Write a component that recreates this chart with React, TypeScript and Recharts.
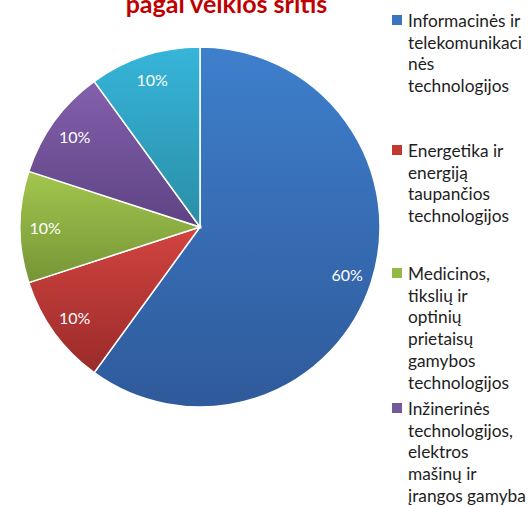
import React from "react";
import { PieChart, Pie, Cell, Legend } from "recharts";

const categories = [
  "Informacinės ir telekomunikacinės technologijos",
  "Energetika ir energiją taupančios technologijos",
  "Medicinos, tikslių ir optinių prietaisų gamybos technologijos",
  "Inžinerinės technologijos, elektros mašinų ir įrangos gamyba",
  "Kitos",
];
const shares = [60, 10, 10, 10, 10];
// legend lines as wrapped in the original
const legendLines = [
  ["Informacinės ir", "telekomunikaci", "nės", "technologijos"],
  ["Energetika ir", "energiją", "taupančios", "technologijos"],
  ["Medicinos,", "tikslių ir", "optinių", "prietaisų", "gamybos", "technologijos"],
  ["Inžinerinės", "technologijos,", "elektros", "mašinų ir", "įrangos gamyba"],
  ["Kitos"],
];
const title = "pagal veiklos sritis";

const data = categories.map((name, i) => ({ name, value: shares[i] }));

const gradients = [
  ["#3e7fcc", "#2f5a9b"],
  ["#d24440", "#9a2b2a"],
  ["#a3c64e", "#769536"],
  ["#8360ac", "#5e4383"],
  ["#36b5da", "#2a8ea6"],
];
const solid = ["#3b75c0", "#c0392f", "#93b845", "#74589c", "#33a7c8"];
const legendTops = [10, 140, 263, 398, 521];

const FONT = "Lato, 'Open Sans', sans-serif";
const RADIAN = Math.PI / 180;

const renderLabel = (props: any) => {
  const { cx, cy, midAngle, outerRadius, value } = props;
  const r = outerRadius * 0.86;
  const x = cx + r * Math.cos(-midAngle * RADIAN);
  const y = cy + r * Math.sin(-midAngle * RADIAN);
  return (
    <text
      x={x}
      y={y}
      fill="#ffffff"
      textAnchor="middle"
      dominantBaseline="central"
      fontSize={16}
      fontFamily={FONT}
    >
      {`${value}%`}
    </text>
  );
};

const renderLegend = (props: any) => {
  const { payload } = props;
  return (
    <div style={{ position: "relative", width: 141, height: 506 }}>
      {(payload || []).map((entry: any, i: number) => (
        <div
          key={i}
          style={{
            position: "absolute",
            top: legendTops[i],
            left: 0,
            display: "flex",
            alignItems: "flex-start",
          }}
        >
          <div
            style={{
              width: 10,
              height: 10,
              marginTop: 5,
              marginRight: 6,
              background: solid[i],
              flexShrink: 0,
            }}
          />
          <div
            style={{
              fontFamily: FONT,
              fontSize: 17.3,
              lineHeight: "21.7px",
              color: "#1e1e1e",
              whiteSpace: "nowrap",
            }}
          >
            {legendLines[i].map((line, j) => (
              <div key={j}>{line}</div>
            ))}
          </div>
        </div>
      ))}
    </div>
  );
};

export default function App() {
  return (
    <div
      style={{
        position: "absolute",
        left: 0,
        top: 0,
        width: 531,
        height: 506,
        overflow: "hidden",
        background: "#ffffff",
      }}
    >
      <svg
        width={531}
        height={30}
        style={{ position: "absolute", left: 0, top: 0, zIndex: 2 }}
      >
        <text
          x={226.5}
          y={13}
          textAnchor="middle"
          fill="#c00000"
          fontSize={25}
          fontWeight="bold"
          fontFamily={FONT}
        >
          {title}
        </text>
      </svg>
      <PieChart width={531} height={506} margin={{ top: 0, right: 0, bottom: 0, left: 0 }}>
        <defs>
          {gradients.map((g, i) => (
            <linearGradient key={i} id={`grad${i}`} x1="0" y1="0" x2="0" y2="1">
              <stop offset="0%" stopColor={g[0]} />
              <stop offset="100%" stopColor={g[1]} />
            </linearGradient>
          ))}
        </defs>
        <Pie
          data={data}
          dataKey="value"
          nameKey="name"
          cx={200}
          cy={227}
          outerRadius={180}
          startAngle={90}
          endAngle={-270}
          stroke="#ffffff"
          strokeWidth={1.5}
          label={renderLabel}
          labelLine={false}
          isAnimationActive={false}
        >
          {data.map((_, i) => (
            <Cell key={i} fill={`url(#grad${i})`} />
          ))}
        </Pie>
        <Legend
          layout="vertical"
          align="right"
          verticalAlign="top"
          content={renderLegend}
          wrapperStyle={{ left: 392, top: 0, width: 141 }}
        />
      </PieChart>
    </div>
  );
}
